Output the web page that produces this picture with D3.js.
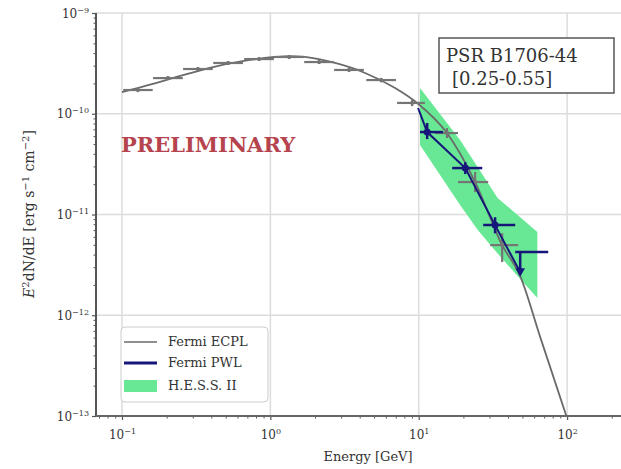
<!DOCTYPE html>
<html><head><meta charset="utf-8">
<script src="https://cdn.jsdelivr.net/npm/d3@7"></script>
<style>body{margin:0;background:#fff}</style>
</head><body><svg id="c" width="621" height="469"></svg>
<script>
// Fermi ECPL model curve
const eclE=[0.1,0.159,0.258,0.411,0.665,1.06,1.34,1.71,2.73,4.35,6.93,9.75,15.5,24.0,36.5,48.3,65.9,100];
const eclF=[1.64e-10,1.97e-10,2.42e-10,2.91e-10,3.34e-10,3.66e-10,3.74e-10,3.66e-10,3.19e-10,2.54e-10,1.80e-10,1.28e-10,6.43e-11,2.10e-11,4.97e-12,2.44e-12,6.07e-13,0.95e-13];
// Fermi ECPL data points
const ptE  =[0.128,0.204,0.325,0.519,0.839,1.34,2.13,3.39,5.58,9.03,15.5,24.0,36.5];
const ptElo=[0.102,0.162,0.258,0.412,0.666,1.06,1.69,2.69,4.43,7.15,12.9,18.4,30.3];
const ptEhi=[0.161,0.257,0.409,0.653,1.056,1.69,2.68,4.27,7.03,11.0,18.4,29.4,46.8];
const ptF  =[1.72e-10,2.26e-10,2.78e-10,3.19e-10,3.49e-10,3.66e-10,3.26e-10,2.72e-10,2.16e-10,1.28e-10,6.43e-11,2.10e-11,4.97e-12];
const ptFlo=[1.64e-10,2.16e-10,2.66e-10,3.05e-10,3.34e-10,3.50e-10,3.12e-10,2.60e-10,2.05e-10,1.19e-10,5.74e-11,1.67e-11,3.37e-12];
const ptFhi=[1.80e-10,2.36e-10,2.90e-10,3.33e-10,3.64e-10,3.82e-10,3.40e-10,2.84e-10,2.27e-10,1.37e-10,7.21e-11,2.64e-11,6.53e-12];
// Fermi PWL
const pwlLineE=[9.9,11.4,20.6,32.7,48.3];
const pwlLineF=[1.14e-10,6.58e-11,2.89e-11,7.85e-12,2.68e-12];
const pwlE  =[11.4,20.6,32.7];
const pwlElo=[10.2,16.8,27.2];
const pwlEhi=[14.6,26.8,44.7];
const pwlF  =[6.58e-11,2.89e-11,7.85e-12];
const pwlFlo=[5.6e-11,2.52e-11,6.5e-12];
const pwlFhi=[8.1e-11,3.31e-11,9.4e-12];
const ulE=48.3, ulElo=44.7, ulEhi=74.6, ulF=4.24e-12, ulArrow=2.68e-12;
// H.E.S.S. II band
const hessE =[10.2,19,25,34,63];
const hessHi=[1.8e-10,5.5e-11,2.95e-11,1.46e-11,6.7e-12];
const hessLo=[4.9e-11,1.24e-11,7.0e-12,4.1e-12,1.48e-12];
// ticks
const xMajor=[0.1,1,10,100], xExp=["\u22121","0","1","2"];
const yMajor=[1e-13,1e-12,1e-11,1e-10,1e-9], yExp=["\u221213","\u221212","\u221211","\u221210","\u22129"];
const legendLabels=["Fermi ECPL","Fermi PWL","H.E.S.S. II"];

const svg=d3.select("#c");
const L=96,R=640,T=13,B=416;
const x=d3.scaleLog().domain([0.0668,310]).range([L,R]);
const y=d3.scaleLog().domain([1e-13,1e-9]).range([B,T]);
const serif="'DejaVu Serif', serif";
const GREY="#757575", NAVY="#16167a", GREEN="#68e894";

svg.append("defs").append("clipPath").attr("id","clip").append("rect")
  .attr("x",L).attr("y",T-1).attr("width",R-L).attr("height",B-T+1);

// grid
const grid=svg.append("g").attr("stroke","#dcdcdc").attr("stroke-width",1.5);
xMajor.forEach(v=>grid.append("line").attr("x1",x(v)).attr("x2",x(v)).attr("y1",T).attr("y2",B));
yMajor.forEach(v=>grid.append("line").attr("x1",L).attr("x2",R).attr("y1",y(v)).attr("y2",y(v)));

const plot=svg.append("g").attr("clip-path","url(#clip)");
// HESS band
const hess=hessE.map((e,i)=>({e,lo:hessLo[i],hi:hessHi[i]}));
plot.append("path").datum(hess).attr("fill",GREEN)
  .attr("d",d3.area().x(d=>x(d.e)).y0(d=>y(d.lo)).y1(d=>y(d.hi)));

// ECPL line
const ecl=eclE.map((e,i)=>({e,f:eclF[i]}));
plot.append("path").datum(ecl).attr("fill","none").attr("stroke","#6a6a6a").attr("stroke-width",1.8)
  .attr("d",d3.line().curve(d3.curveMonotoneX).x(d=>x(d.e)).y(d=>y(d.f)));

// grey points
const gp=plot.append("g").attr("stroke",GREY).attr("stroke-width",2.2);
ptE.forEach((e,i)=>{
  gp.append("line").attr("x1",x(ptElo[i])).attr("x2",x(ptEhi[i])).attr("y1",y(ptF[i])).attr("y2",y(ptF[i]));
  gp.append("line").attr("x1",x(e)).attr("x2",x(e)).attr("y1",y(ptFlo[i])).attr("y2",y(ptFhi[i]));
  gp.append("circle").attr("cx",x(e)).attr("cy",y(ptF[i])).attr("r",2).attr("fill",GREY).attr("stroke","none");
});

// PWL line
const pwl=pwlLineE.map((e,i)=>({e,f:pwlLineF[i]}));
plot.append("path").datum(pwl).attr("fill","none").attr("stroke",NAVY).attr("stroke-width",2)
  .attr("d",d3.line().x(d=>x(d.e)).y(d=>y(d.f)));
const np=plot.append("g").attr("stroke",NAVY).attr("stroke-width",2.5);
pwlE.forEach((e,i)=>{
  np.append("line").attr("x1",x(pwlElo[i])).attr("x2",x(pwlEhi[i])).attr("y1",y(pwlF[i])).attr("y2",y(pwlF[i]));
  np.append("line").attr("x1",x(e)).attr("x2",x(e)).attr("y1",y(pwlFlo[i])).attr("y2",y(pwlFhi[i]));
  np.append("circle").attr("cx",x(e)).attr("cy",y(pwlF[i])).attr("r",3.5).attr("fill",NAVY).attr("stroke","none");
});
np.append("line").attr("x1",x(ulElo)).attr("x2",x(ulEhi)).attr("y1",y(ulF)).attr("y2",y(ulF));
np.append("line").attr("x1",x(ulE)).attr("x2",x(ulE)).attr("y1",y(ulF)).attr("y2",y(ulArrow));
np.append("path").attr("fill",NAVY).attr("stroke","none")
  .attr("d",d3.symbol(d3.symbolTriangle,40)).attr("transform",`translate(${x(ulE)},${y(ulArrow)-1}) rotate(180)`);

// axes
const xa=svg.append("g").attr("transform",`translate(0,${B})`);
const xMinor=[];[0.01,0.1,1,10,100].forEach(d=>{for(let k=2;k<10;k++){const v=d*k;if(v>0.0668&&v<310)xMinor.push(v);}});
xa.call(d3.axisBottom(x).tickValues(xMinor).tickSize(2.5).tickFormat(""));
xa.call(g=>g.selectAll(".tick line").attr("stroke","#555").attr("stroke-width",1));
const xb=svg.append("g").attr("transform",`translate(0,${B})`);
xb.call(d3.axisBottom(x).tickValues(xMajor).tickSize(4).tickFormat(""));
xb.selectAll(".tick line").attr("stroke","#555").attr("stroke-width",1.2);
xb.selectAll(".tick").each(function(d,i){
  const t=d3.select(this).append("text").attr("y",23).attr("fill","#333").attr("text-anchor","middle")
    .style("font-family",serif).style("font-size","12px");
  t.append("tspan").text("10");
  t.append("tspan").attr("dy",-5).style("font-size","8px").text(xExp[i]);
});
const ya=svg.append("g").attr("transform",`translate(${L},0)`);
const yMinor=[];[1e-13,1e-12,1e-11,1e-10].forEach(d=>{for(let k=2;k<10;k++)yMinor.push(d*k);});
ya.call(d3.axisLeft(y).tickValues(yMinor).tickSize(2.5).tickFormat(""));
ya.selectAll(".tick line").attr("stroke","#555").attr("stroke-width",1);
const yb=svg.append("g").attr("transform",`translate(${L},0)`);
yb.call(d3.axisLeft(y).tickValues(yMajor).tickSize(4).tickFormat(""));
yb.selectAll(".tick line").attr("stroke","#555").attr("stroke-width",1.2);
yb.selectAll(".tick").each(function(d,i){
  const t=d3.select(this).append("text").attr("x",-7).attr("y",4).attr("fill","#333").attr("text-anchor","end")
    .style("font-family",serif).style("font-size","12px");
  t.append("tspan").text("10");
  t.append("tspan").attr("dy",-5).style("font-size","8px").text(yExp[i]);
});
[xa,xb,ya,yb].forEach(g=>g.select(".domain").remove());
svg.append("line").attr("x1",L).attr("x2",L).attr("y1",T).attr("y2",B).attr("stroke","#555").attr("stroke-width",2);
svg.append("line").attr("x1",L).attr("x2",R).attr("y1",B).attr("y2",B).attr("stroke","#666").attr("stroke-width",2.2);

// axis labels
svg.append("text").attr("x",368).attr("y",461).attr("text-anchor","middle").attr("fill","#333")
  .style("font-family",serif).style("font-size","13px").text("Energy [GeV]");
const yl=svg.append("text").attr("transform","translate(34,214) rotate(-90)").attr("text-anchor","middle").attr("fill","#333")
  .style("font-family",serif).style("font-size","14px");
yl.append("tspan").style("font-style","italic").text("E");
yl.append("tspan").attr("dy",-5).style("font-size","10px").text("2");
yl.append("tspan").attr("dy",5).text("dN/dE [erg s");
yl.append("tspan").attr("dy",-5).style("font-size","10px").text("\u22121");
yl.append("tspan").attr("dy",5).text(" cm");
yl.append("tspan").attr("dy",-5).style("font-size","10px").text("\u22122");
yl.append("tspan").attr("dy",5).text("]");

// PRELIMINARY
svg.append("text").attr("x",121).attr("y",152).attr("fill","#b5444e")
  .style("font-family",serif).style("font-weight","bold").style("font-size","21px").text("PRELIMINARY");

// info box
svg.append("rect").attr("x",439).attr("y",38).attr("width",175).attr("height",55)
  .attr("fill","#fff").attr("stroke","#555").attr("stroke-width",1.5);
svg.append("text").attr("x",446).attr("y",62).attr("fill","#333").style("font-family",serif).style("font-size","18px").text("PSR B1706-44");
svg.append("text").attr("x",452).attr("y",85).attr("fill","#333").style("font-family",serif).style("font-size","18px").text("[0.25-0.55]");

// legend
const lg=svg.append("g");
lg.append("rect").attr("x",121).attr("y",327).attr("width",147).attr("height",75).attr("rx",4)
  .attr("fill","#fff").attr("stroke","#ccc").attr("stroke-width",1);
lg.append("line").attr("x1",124).attr("x2",157).attr("y1",342).attr("y2",342).attr("stroke","#6a6a6a").attr("stroke-width",1.5);
lg.append("line").attr("x1",124).attr("x2",157).attr("y1",363).attr("y2",363).attr("stroke",NAVY).attr("stroke-width",3);
lg.append("rect").attr("x",124).attr("y",380).attr("width",33).attr("height",12).attr("fill",GREEN);
[346,367,390].forEach((yy,i)=>lg.append("text").attr("x",168).attr("y",yy).attr("fill","#333")
  .style("font-family",serif).style("font-size","13px").text(legendLabels[i]));
</script></body></html>
